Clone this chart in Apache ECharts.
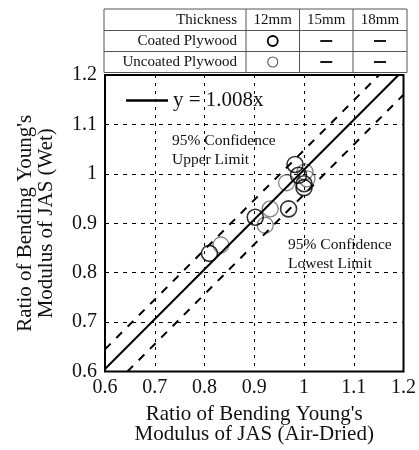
<!DOCTYPE html>
<html>
<head>
<meta charset="utf-8">
<script src="https://cdn.jsdelivr.net/npm/echarts@6/dist/echarts.min.js"></script>
<style>
html, body { margin: 0; padding: 0; background: #fff; }
#chart { width: 419px; height: 450px; }
</style>
</head>
<body>
<div id="chart"></div>
<script>
var FONT = '"Liberation Serif", "Times New Roman", serif';

// data
var coatedX = [0.982, 0.989, 1.000, 1.000, 0.969, 0.902, 0.810];
var coatedY = [1.019, 0.997, 0.980, 0.972, 0.929, 0.912, 0.839];
var uncoatedX = [0.965, 1.002, 1.006, 0.932, 0.922, 0.833];
var uncoatedY = [0.982, 1.004, 0.990, 0.929, 0.896, 0.856];

// y = 1.008x and 95% limits (end points)
var fitLine = [[0.6, 0.605], [1.190, 1.2]];
var upperLine = [[0.6, 0.645], [1.151, 1.2]];
var lowerLine = [[0.645, 0.6], [1.2, 1.160]];

var tableHead = ['Thickness', '12mm', '15mm', '18mm'];
var tableRows = ['Coated Plywood', 'Uncoated Plywood'];

function pairs(xs, ys) {
    var out = [];
    for (var i = 0; i < xs.length; i++) out.push([xs[i], ys[i]]);
    return out;
}

// table above the plot
var colX = [104, 246, 299.5, 353, 407];
var rowY = [9, 30.5, 51.5, 72.5];
var graphics = [];
for (var r = 0; r < rowY.length; r++) {
    graphics.push({ type: 'line', shape: { x1: colX[0], y1: rowY[r], x2: colX[4], y2: rowY[r] },
        style: { stroke: '#555', lineWidth: 1 }, silent: true });
}
for (var c = 0; c < colX.length; c++) {
    graphics.push({ type: 'line', shape: { x1: colX[c], y1: rowY[0], x2: colX[c], y2: rowY[3] },
        style: { stroke: '#555', lineWidth: 1 }, silent: true });
}
graphics.push({ type: 'text', x: colX[1] - 9, y: (rowY[0] + rowY[1]) / 2,
    style: { text: tableHead[0], font: '15px ' + FONT, fill: '#111', align: 'right', verticalAlign: 'middle' } });
for (var h = 1; h < tableHead.length; h++) {
    graphics.push({ type: 'text', x: (colX[h] + colX[h + 1]) / 2, y: (rowY[0] + rowY[1]) / 2,
        style: { text: tableHead[h], font: '15px ' + FONT, fill: '#111', align: 'center', verticalAlign: 'middle' } });
}
for (var k = 0; k < tableRows.length; k++) {
    var cy = (rowY[k + 1] + rowY[k + 2]) / 2;
    graphics.push({ type: 'text', x: colX[1] - 9, y: cy,
        style: { text: tableRows[k], font: '15px ' + FONT, fill: '#111', align: 'right', verticalAlign: 'middle' } });
    graphics.push({ type: 'circle', shape: { cx: (colX[1] + colX[2]) / 2, cy: cy, r: 5 },
        style: { fill: 'none', stroke: k == 0 ? '#000' : '#555', lineWidth: k == 0 ? 1.8 : 1.1 } });
    for (var d = 2; d < 4; d++) {
        var mx = (colX[d] + colX[d + 1]) / 2;
        graphics.push({ type: 'line', shape: { x1: mx - 6, y1: cy, x2: mx + 6, y2: cy },
            style: { stroke: '#000', lineWidth: 1.8 } });
    }
}
// annotations
graphics.push({ type: 'text', left: 172, top: 131,
    style: { text: '95% Confidence\nUpper Limit', font: '15.5px ' + FONT, lineHeight: 19, fill: '#111' } });
graphics.push({ type: 'text', left: 288, top: 235,
    style: { text: '95% Confidence\nLowest Limit', font: '15.5px ' + FONT, lineHeight: 19, fill: '#111' } });

var myChart = echarts.init(document.getElementById('chart'));
var option = {
    animation: false,
    grid: {
        left: 105, right: 12, top: 75, bottom: 75,
        show: true, borderColor: '#000', borderWidth: 2, backgroundColor: 'transparent'
    },
    legend: {
        data: [{ name: 'y = 1.008x', icon: 'rect' }],
        left: 121, top: 85,
        itemWidth: 42, itemHeight: 2.5, itemGap: 5,
        itemStyle: { color: '#000' },
        textStyle: { fontFamily: FONT, fontSize: 21, color: '#111' }
    },
    xAxis: {
        type: 'value', min: 0.6, max: 1.2, interval: 0.1,
        name: "Ratio of Bending Young's\nModulus of JAS (Air-Dried)",
        nameLocation: 'middle', nameGap: 33,
        nameTextStyle: { fontFamily: FONT, fontSize: 21, lineHeight: 20, color: '#111' },
        axisLine: { show: false },
        axisTick: { show: false },
        axisLabel: { fontFamily: FONT, fontSize: 20, color: '#111', margin: 6,
            formatter: function (v) { return String(+v.toFixed(1)); } },
        splitLine: { lineStyle: { color: '#000', width: 1, type: [3, 5] } }
    },
    yAxis: {
        type: 'value', min: 0.6, max: 1.2, interval: 0.1,
        name: "Ratio of Bending Young's\nModulus of JAS (Wet)",
        nameLocation: 'middle', nameGap: 48, nameRotate: 90,
        nameTextStyle: { fontFamily: FONT, fontSize: 21, lineHeight: 21, color: '#111' },
        axisLine: { show: false },
        axisTick: { show: false },
        axisLabel: { fontFamily: FONT, fontSize: 20, color: '#111', margin: 8,
            formatter: function (v) { return String(+v.toFixed(1)); } },
        splitLine: { lineStyle: { color: '#000', width: 1, type: [4, 5] } }
    },
    series: [
        {
            name: 'y = 1.008x', type: 'line', data: fitLine, symbol: 'none',
            lineStyle: { color: '#000', width: 2 }, itemStyle: { color: '#000' }
        },
        {
            name: 'upper', type: 'line', data: upperLine, symbol: 'none',
            lineStyle: { color: '#000', width: 2, type: [8, 8] }
        },
        {
            name: 'lower', type: 'line', data: lowerLine, symbol: 'none',
            lineStyle: { color: '#000', width: 2, type: [8, 8] }
        },
        {
            name: 'Uncoated Plywood', type: 'scatter', data: pairs(uncoatedX, uncoatedY),
            symbol: 'circle', symbolSize: 16,
            itemStyle: { color: 'rgba(0,0,0,0)', borderColor: '#666', borderWidth: 1.3 }
        },
        {
            name: 'Coated Plywood', type: 'scatter', data: pairs(coatedX, coatedY),
            symbol: 'circle', symbolSize: 16,
            itemStyle: { color: 'rgba(0,0,0,0)', borderColor: '#000', borderWidth: 1.6 }
        }
    ],
    graphic: graphics
};
myChart.setOption(option);
</script>
</body>
</html>
